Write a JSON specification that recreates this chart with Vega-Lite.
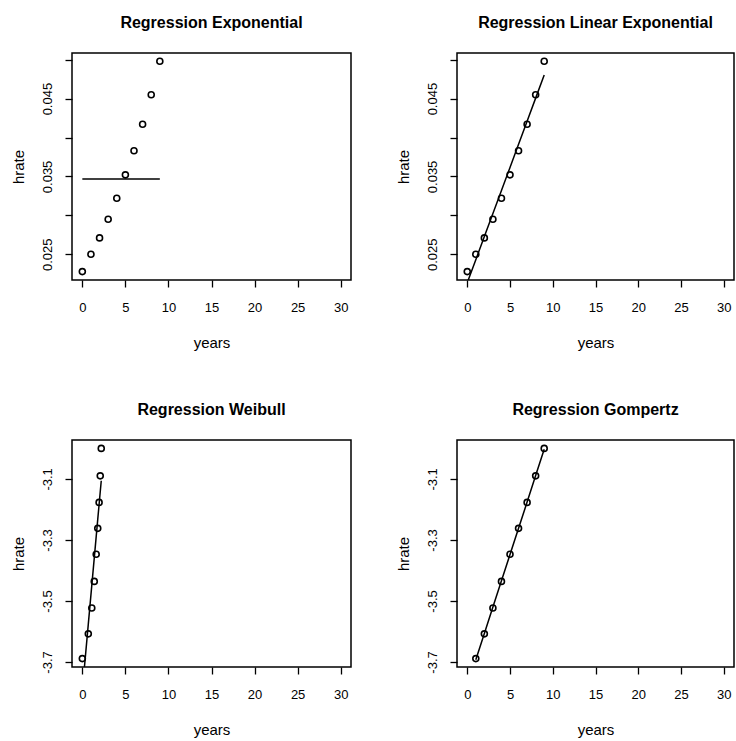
{
  "$schema": "https://vega.github.io/schema/vega-lite/v6.json",
  "background": "white",
  "padding": {"left": 10, "top": 14, "right": 0, "bottom": 0},
  "datasets": {
    "exp_pts": [
      {"years": 0, "hrate": 0.02277}, {"years": 1, "hrate": 0.0250}, {"years": 2, "hrate": 0.0271},
      {"years": 3, "hrate": 0.0295}, {"years": 4, "hrate": 0.0322}, {"years": 5, "hrate": 0.0352},
      {"years": 6, "hrate": 0.0383}, {"years": 7, "hrate": 0.0417}, {"years": 8, "hrate": 0.0455},
      {"years": 9, "hrate": 0.0498}
    ],
    "exp_fit": [
      {"years": 0, "hrate": 0.034677}, {"years": 9, "hrate": 0.034677}
    ],
    "lin_fit": [
      {"years": 0, "hrate": 0.02134}, {"years": 1, "hrate": 0.02430}, {"years": 2, "hrate": 0.02727},
      {"years": 3, "hrate": 0.03023}, {"years": 4, "hrate": 0.03320}, {"years": 5, "hrate": 0.03616},
      {"years": 6, "hrate": 0.03913}, {"years": 7, "hrate": 0.04209}, {"years": 8, "hrate": 0.04506},
      {"years": 9, "hrate": 0.04802}
    ],
    "wei_pts": [
      {"logyears": 0, "hrate": -3.689}, {"logyears": 0.6931, "hrate": -3.608}, {"logyears": 1.0986, "hrate": -3.523},
      {"logyears": 1.3863, "hrate": -3.436}, {"logyears": 1.6094, "hrate": -3.347}, {"logyears": 1.7918, "hrate": -3.262},
      {"logyears": 1.9459, "hrate": -3.177}, {"logyears": 2.0794, "hrate": -3.090}, {"logyears": 2.1972, "hrate": -3.000}
    ],
    "wei_fit": [
      {"logyears": 0, "hrate": -3.793}, {"logyears": 0.6931, "hrate": -3.576}, {"logyears": 1.0986, "hrate": -3.449},
      {"logyears": 1.3863, "hrate": -3.359}, {"logyears": 1.6094, "hrate": -3.289}, {"logyears": 1.7918, "hrate": -3.232},
      {"logyears": 1.9459, "hrate": -3.184}, {"logyears": 2.0794, "hrate": -3.142}, {"logyears": 2.1972, "hrate": -3.106}
    ],
    "gom_pts": [
      {"years": 1, "hrate": -3.689}, {"years": 2, "hrate": -3.608}, {"years": 3, "hrate": -3.523},
      {"years": 4, "hrate": -3.436}, {"years": 5, "hrate": -3.347}, {"years": 6, "hrate": -3.262},
      {"years": 7, "hrate": -3.177}, {"years": 8, "hrate": -3.090}, {"years": 9, "hrate": -3.000}
    ],
    "gom_fit": [
      {"years": 1, "hrate": -3.693}, {"years": 2, "hrate": -3.607}, {"years": 3, "hrate": -3.520},
      {"years": 4, "hrate": -3.434}, {"years": 5, "hrate": -3.348}, {"years": 6, "hrate": -3.262},
      {"years": 7, "hrate": -3.176}, {"years": 8, "hrate": -3.089}, {"years": 9, "hrate": -3.003}
    ]
  },
  "columns": 2,
  "spacing": {"row": 160, "column": 106},
  "bounds": "flush",
  "concat": [
    {
      "title": "Regression Exponential",
      "width": 279, "height": 227,
      "layer": [
        {
          "data": {"name": "exp_pts"},
          "mark": {"type": "point", "shape": "circle", "filled": false, "stroke": "black", "strokeWidth": 1.6, "size": 36, "opacity": 1},
          "encoding": {
            "x": {"field": "years", "type": "quantitative", "scale": {"domain": [-1.2, 31.2], "nice": false, "zero": false}, "axis": {"values": [0, 5, 10, 15, 20, 25, 30], "title": "years"}},
            "y": {"field": "hrate", "type": "quantitative", "scale": {"domain": [0.02169, 0.05086], "nice": false, "zero": false}, "axis": {"values": [0.025, 0.03, 0.035, 0.04, 0.045, 0.05], "title": "hrate", "labelAngle": -90, "labelExpr": "round(datum.value*1000)==25 ? '0.025' : round(datum.value*1000)==35 ? '0.035' : round(datum.value*1000)==45 ? '0.045' : ''"}}
          }
        },
        {
          "data": {"name": "exp_fit"},
          "mark": {"type": "line", "color": "black", "strokeWidth": 1.5, "clip": true},
          "encoding": {
            "x": {"field": "years", "type": "quantitative"},
            "y": {"field": "hrate", "type": "quantitative"}
          }
        }
      ]
    },
    {
      "title": "Regression Linear Exponential",
      "width": 277, "height": 227,
      "layer": [
        {
          "data": {"name": "exp_pts"},
          "mark": {"type": "point", "shape": "circle", "filled": false, "stroke": "black", "strokeWidth": 1.6, "size": 36, "opacity": 1},
          "encoding": {
            "x": {"field": "years", "type": "quantitative", "scale": {"domain": [-1.2, 31.2], "nice": false, "zero": false}, "axis": {"values": [0, 5, 10, 15, 20, 25, 30], "title": "years"}},
            "y": {"field": "hrate", "type": "quantitative", "scale": {"domain": [0.02169, 0.05086], "nice": false, "zero": false}, "axis": {"values": [0.025, 0.03, 0.035, 0.04, 0.045, 0.05], "title": "hrate", "labelAngle": -90, "labelExpr": "round(datum.value*1000)==25 ? '0.025' : round(datum.value*1000)==35 ? '0.035' : round(datum.value*1000)==45 ? '0.045' : ''"}}
          }
        },
        {
          "data": {"name": "lin_fit"},
          "mark": {"type": "line", "color": "black", "strokeWidth": 1.5, "clip": true},
          "encoding": {
            "x": {"field": "years", "type": "quantitative"},
            "y": {"field": "hrate", "type": "quantitative"}
          }
        }
      ]
    },
    {
      "title": "Regression Weibull",
      "width": 279, "height": 227,
      "layer": [
        {
          "data": {"name": "wei_pts"},
          "mark": {"type": "point", "shape": "circle", "filled": false, "stroke": "black", "strokeWidth": 1.6, "size": 36, "opacity": 1},
          "encoding": {
            "x": {"field": "logyears", "type": "quantitative", "scale": {"domain": [-1.2, 31.2], "nice": false, "zero": false}, "axis": {"values": [0, 5, 10, 15, 20, 25, 30], "title": "years"}},
            "y": {"field": "hrate", "type": "quantitative", "scale": {"domain": [-3.7166, -2.9724], "nice": false, "zero": false}, "axis": {"values": [-3.7, -3.6, -3.5, -3.4, -3.3, -3.2, -3.1, -3.0], "title": "hrate", "labelAngle": -90, "labelExpr": "round(datum.value*10)==-37 ? '-3.7' : round(datum.value*10)==-35 ? '-3.5' : round(datum.value*10)==-33 ? '-3.3' : round(datum.value*10)==-31 ? '-3.1' : ''"}}
          }
        },
        {
          "data": {"name": "wei_fit"},
          "mark": {"type": "line", "color": "black", "strokeWidth": 1.5, "clip": true},
          "encoding": {
            "x": {"field": "logyears", "type": "quantitative"},
            "y": {"field": "hrate", "type": "quantitative"}
          }
        }
      ]
    },
    {
      "title": "Regression Gompertz",
      "width": 277, "height": 227,
      "layer": [
        {
          "data": {"name": "gom_pts"},
          "mark": {"type": "point", "shape": "circle", "filled": false, "stroke": "black", "strokeWidth": 1.6, "size": 36, "opacity": 1},
          "encoding": {
            "x": {"field": "years", "type": "quantitative", "scale": {"domain": [-1.2, 31.2], "nice": false, "zero": false}, "axis": {"values": [0, 5, 10, 15, 20, 25, 30], "title": "years"}},
            "y": {"field": "hrate", "type": "quantitative", "scale": {"domain": [-3.7166, -2.9724], "nice": false, "zero": false}, "axis": {"values": [-3.7, -3.6, -3.5, -3.4, -3.3, -3.2, -3.1, -3.0], "title": "hrate", "labelAngle": -90, "labelExpr": "round(datum.value*10)==-37 ? '-3.7' : round(datum.value*10)==-35 ? '-3.5' : round(datum.value*10)==-33 ? '-3.3' : round(datum.value*10)==-31 ? '-3.1' : ''"}}
          }
        },
        {
          "data": {"name": "gom_fit"},
          "mark": {"type": "line", "color": "black", "strokeWidth": 1.5, "clip": true},
          "encoding": {
            "x": {"field": "years", "type": "quantitative"},
            "y": {"field": "hrate", "type": "quantitative"}
          }
        }
      ]
    }
  ],
  "config": {
    "font": "Liberation Sans",
    "view": {"stroke": "black", "strokeWidth": 1.5},
    "title": {"fontSize": 16, "fontWeight": "bold", "font": "Liberation Sans", "color": "black", "anchor": "middle", "offset": 22},
    "axis": {
      "domain": false, "grid": false,
      "ticks": true, "tickColor": "black", "tickSize": 7, "tickWidth": 1.3,
      "labelFont": "Liberation Sans", "labelFontSize": 13, "labelColor": "black", "labelFlush": false, "labelOverlap": false,
      "titleFont": "Liberation Sans", "titleFontSize": 15, "titleFontWeight": "normal", "titleColor": "black"
    },
    "axisX": {"labelPadding": 14, "titlePadding": 21},
    "axisY": {"labelPadding": 11, "titlePadding": 15}
  }
}
